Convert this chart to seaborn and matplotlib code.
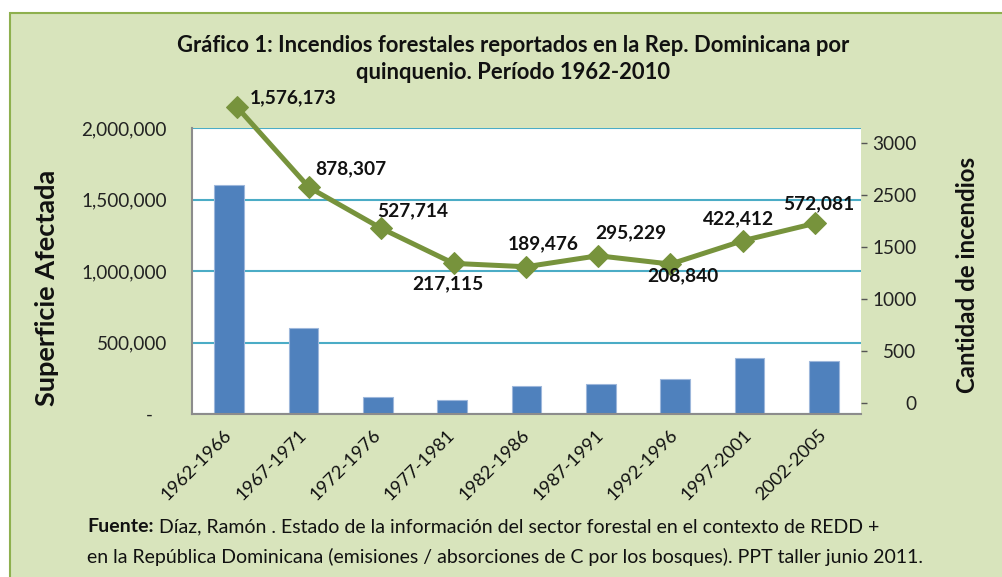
import numpy as np
import matplotlib
matplotlib.use('Agg')
import matplotlib.pyplot as plt
from matplotlib.patches import Rectangle
import seaborn as sns

# data
periods = ['1962-1966', '1967-1971', '1972-1976', '1977-1981', '1982-1986',
           '1987-1991', '1992-1996', '1997-2001', '2002-2005']
superficie = [1600000, 600000, 120000, 98000, 195000, 208000, 245000, 394000, 372000]
incendios = [3415, 2485, 2012, 1608, 1569, 1696, 1600, 1869, 2070]
point_labels = [1576173, 878307, 527714, 217115, 189476, 295229, 208840, 422412, 572081]

left_ticks = [0, 500000, 1000000, 1500000, 2000000]
right_ticks = [0, 600, 1200, 1800, 2400, 3000]
right_tick_labels = ['0', '500', '1000', '1500', '2500', '3000']

title = 'Gráfico 1: Incendios forestales reportados en la Rep. Dominicana por\nquinquenio. Período 1962-2010'
fuente = ' Díaz, Ramón . Estado de la información del sector forestal en el contexto de REDD +'
fuente2 = 'en la República Dominicana (emisiones / absorciones de C por los bosques). PPT taller junio 2011.'

BAR = '#4F81BD'
LINE = '#77933C'
GRID = '#4BACC6'
BG = '#D8E4BC'

sns.set_style('white')
plt.rcParams['font.family'] = ['Lato', 'DejaVu Sans']

W, H = 1003, 577
fig = plt.figure(figsize=(W / 100, H / 100), dpi=100)
fig.patch.set_facecolor('white')
fig.patches.append(Rectangle((10 / W, -0.02), 1.0, 1 - 13 / H + 0.02, transform=fig.transFigure,
                             facecolor=BG, edgecolor='#8EB04E', lw=1.5, zorder=-10))

rect = [192 / W, 1 - 414 / H, (861 - 192) / W, (414 - 128) / H]
ax = fig.add_axes(rect)
ax.set_facecolor('white')

sns.barplot(x=periods, y=superficie, ax=ax, color=BAR, width=0.4, saturation=1,
            edgecolor='#9DB7DB', linewidth=0.8)
ax.set_xlim(-0.5, 8.5)
ax.set_ylim(0, 2000000)
ax.set_axisbelow(True)
ax.yaxis.grid(True, color=GRID, lw=1.5)
ax.set_yticks(left_ticks)
ax.set_yticklabels(['-   '] + ['{:,}'.format(v) for v in left_ticks[1:]])
ax.tick_params(axis='y', length=0, pad=18, labelsize=13.6, labelcolor='#222222')
ax.tick_params(axis='x', length=0, pad=13, labelsize=13.2, labelcolor='#111111')
plt.setp(ax.get_xticklabels(), rotation=45, ha='right', va='center', rotation_mode='anchor')
ax.set_xlabel('')
ax.set_ylabel('')
for s in ['top', 'right']:
    ax.spines[s].set_visible(False)
for s in ['left', 'bottom']:
    ax.spines[s].set_color('#8C8C8C')
    ax.spines[s].set_linewidth(1.5)

# secondary axis for the line
ax2 = fig.add_axes(rect)
ax2.patch.set_visible(False)
xs = np.arange(len(periods))
sns.lineplot(x=xs, y=incendios, ax=ax2, color=LINE, lw=3.6, marker='D', markersize=11,
             markeredgecolor=LINE, clip_on=False)
ax2.set_xlim(-0.618, 8.636)
ax2.set_ylim(-130, 3170)
ax2.xaxis.set_visible(False)
for s in ax2.spines.values():
    s.set_visible(False)
ax2.yaxis.tick_right()
ax2.set_yticks(right_ticks)
ax2.set_yticklabels(right_tick_labels)
ax2.tick_params(axis='y', right=True, length=4, width=1, color='#555555', direction='out',
                pad=36, labelsize=13.7, labelcolor='#222222')
for lbl in ax2.get_yticklabels():
    lbl.set_ha('right')

offsets = [(56, 9), (42, 19), (31, 18), (-6, -20), (17, 23), (33, 23), (12, -12), (-4, 22), (4, 20)]
for x, y, v, off in zip(xs, incendios, point_labels, offsets):
    ax2.annotate('{:,}'.format(v), (x, y), xytext=off, textcoords='offset pixels',
                 ha='center', va='center', fontsize=13.8, fontweight='bold', color='#111111',
                 annotation_clip=False)

fig.text(513 / W, 1 - 59 / H, title, ha='center', va='center', fontsize=15.8,
         fontweight='bold', linespacing=1.3, color='#111111')
fig.text(47 / W, 1 - 288 / H, 'Superficie Afectada', rotation=90, ha='center', va='center',
         fontsize=19.5, fontweight='bold', color='#111111')
fig.text(968 / W, 1 - 275 / H, 'Cantidad de incendios', rotation=90, ha='center', va='center',
         fontsize=17.3, fontweight='bold', color='#111111')

t = fig.text(87 / W, 1 - 527 / H, 'Fuente:', ha='left', va='center', fontsize=14,
             fontweight='bold', color='#111111')
ax.annotate(fuente, xy=(1, 0), xycoords=t, ha='left', va='bottom', fontsize=14,
            color='#111111', annotation_clip=False)
fig.text(87 / W, 1 - 557 / H, fuente2, ha='left', va='center', fontsize=14, color='#111111')

fig.savefig('out.png', dpi=100)
